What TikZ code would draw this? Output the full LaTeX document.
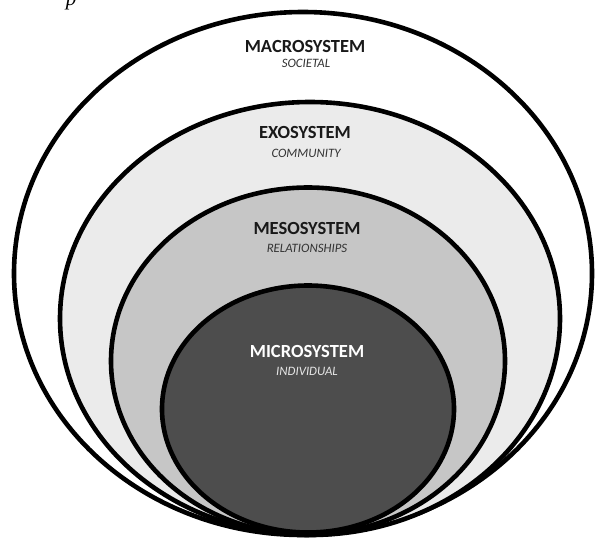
\documentclass[tikz,border=0pt]{standalone}
\usepackage{fontspec}
\setmainfont{Carlito}
\newfontfamily\capfont{Liberation Serif}
\definecolor{exofill}{HTML}{EBEBEB}
\definecolor{mesofill}{HTML}{C6C6C6}
\definecolor{microfill}{HTML}{4D4D4D}
\definecolor{subgrey}{HTML}{333333}
\definecolor{microsub}{HTML}{E6E6E6}
\begin{document}
\begin{tikzpicture}[x=1pt,y=-1pt,
  ring/.style={draw=black,line width=4.6pt},
  title/.style={font=\fontsize{18.5}{20}\selectfont\bfseries,text=black!90,inner sep=0pt,anchor=base},
  sub/.style={font=\fontsize{12.8}{14}\selectfont\itshape,text=subgrey,inner sep=0pt,anchor=base}]
\useasboundingbox (0,0) rectangle (595,539);
\fill[white] (0,0) rectangle (595,539);
% caption fragment (cut by the top edge, as in the reference)
\node[inner sep=0pt,anchor=base,font=\capfont\itshape\fontsize{21}{22}\selectfont] (cap) at (71,5) {p};
% rings
\draw[ring,fill=white] (303,273.5) ellipse [x radius=289, y radius=261.5];
\draw[ring,fill=exofill] (310,318.5) ellipse [x radius=250, y radius=216.5];
\draw[ring,fill=mesofill] (308,361) ellipse [x radius=197, y radius=173.5];
\draw[ring,fill=microfill] (308,409) ellipse [x radius=146, y radius=123.5];
% labels
\node[title] (macro) at (305,52) {MACROSYSTEM};
\node[sub] (macrosub) at (306,67) {SOCIETAL};
\node[title] (exo) at (305,138) {EXOSYSTEM};
\node[sub] (exosub) at (306,157) {COMMUNITY};
\node[title] (meso) at (307,234) {MESOSYSTEM};
\node[sub] (mesosub) at (307,252) {RELATIONSHIPS};
\node[title,text=white] (micro) at (307,357) {MICROSYSTEM};
\node[sub,text=microsub] (microsub) at (307,375) {INDIVIDUAL};
\end{tikzpicture}
\end{document}
